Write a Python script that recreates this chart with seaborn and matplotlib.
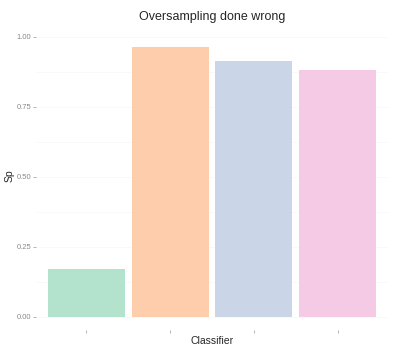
import numpy as np
import matplotlib
matplotlib.use('Agg')
from matplotlib import pyplot as plt
import pandas as pd
import seaborn as sns

# values
classifiers = ["", " ", "  ", "   "]
sp = [0.171, 0.961, 0.911, 0.879]
colors = ["#B3E2CD", "#FDCDAC", "#CBD5E8", "#F4CAE4"]
yticks = [0.0, 0.25, 0.5, 0.75, 1.0]
ytick_labels = ["0.00", "0.25", "0.50", "0.75", "1.00"]

df = pd.DataFrame({"Classifier": classifiers, "Sp": sp})

sns.set_style("white")
plt.rcParams['font.family'] = ['Liberation Sans', 'DejaVu Sans']

W, H = 401, 351
fig = plt.figure(figsize=(W / 100, H / 100), dpi=100)
ax = fig.add_axes([36 / W, 1 - 330 / H, 352 / W, 296 / H])

sns.barplot(data=df, x="Classifier", y="Sp", hue="Classifier", palette=colors,
            width=0.92, legend=False, ax=ax, saturation=1, linewidth=0)

ax.set_xlim(-0.6, 3.6)
ax.set_ylim(-0.048, 1.009)
ax.set_yticks(yticks)
ax.set_yticklabels(ytick_labels)
for y in [0.125, 0.375, 0.625, 0.875] + yticks:
    ax.axhline(y, color="#f8f8f8", lw=0.6, zorder=0)
for s in ax.spines.values():
    s.set_visible(False)
ax.tick_params(axis="both", length=2, width=0.5, color="#999999",
               labelsize=5.5, labelcolor="#888888", pad=1.5, left=True, bottom=True)
ax.set_xlabel("")
ax.set_ylabel("")

fig.text(212 / W, 1 - 17 / H, "Oversampling done wrong", fontsize=9,
         ha="center", va="center")
fig.text(212 / W, 1 - 341 / H, "Classifier", fontsize=7.5, ha="center", va="center")
fig.text(10 / W, 1 - 176 / H, "Sp", fontsize=7.5, ha="center", va="center",
         rotation=90)

plt.savefig("out.png", dpi=100)
plt.close()
